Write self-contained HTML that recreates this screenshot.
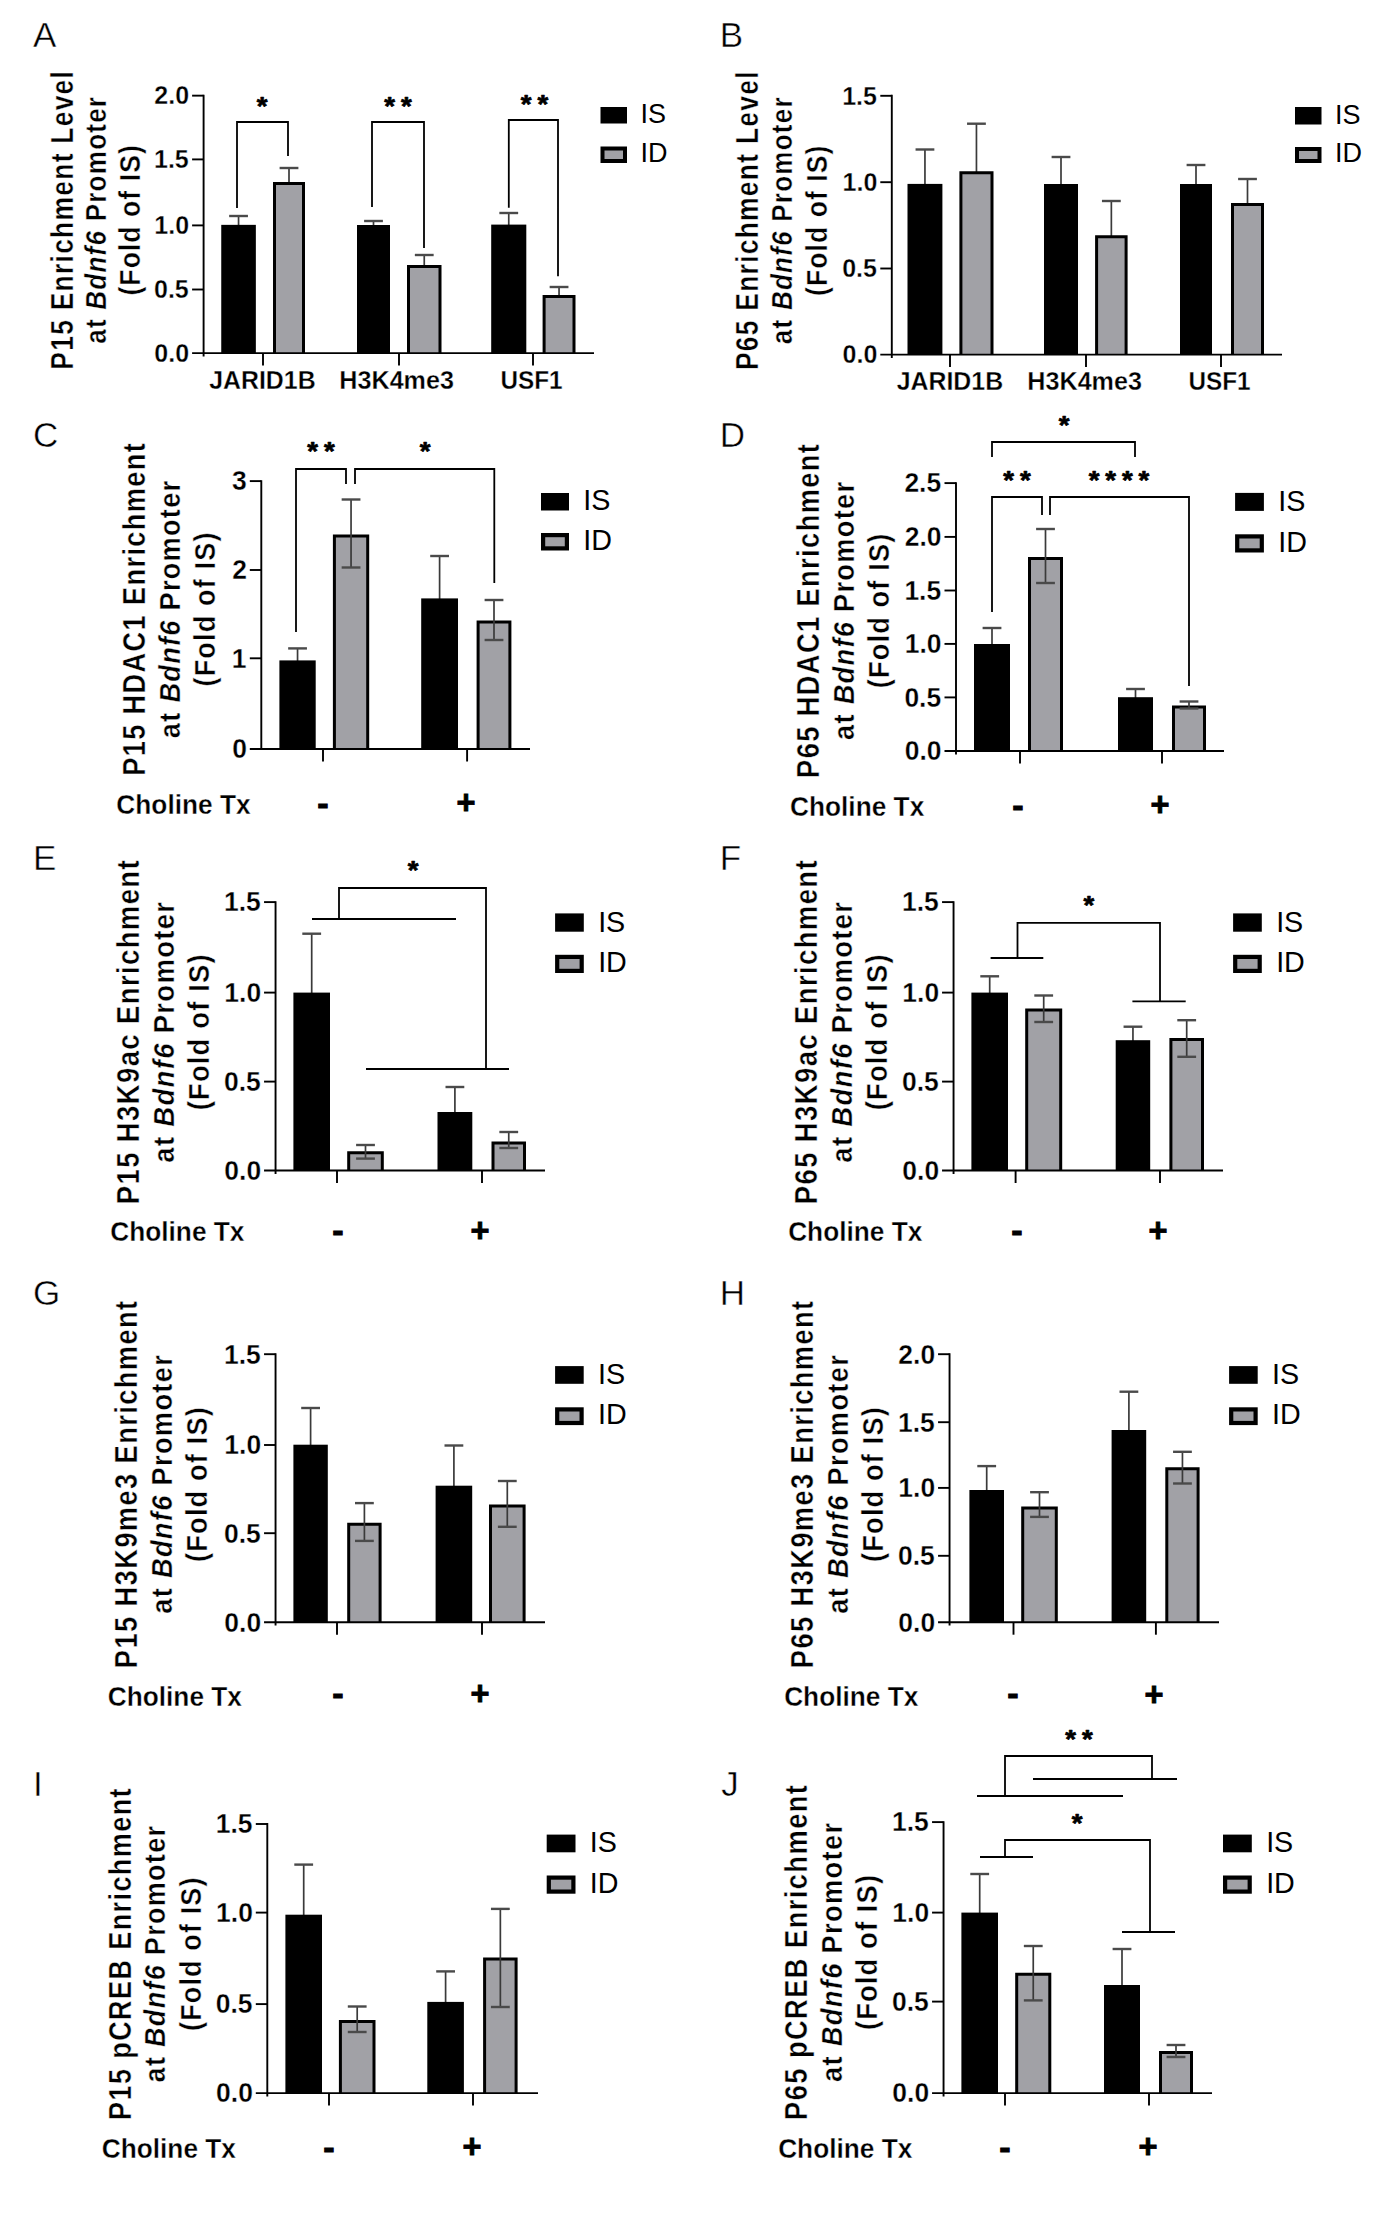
<!DOCTYPE html>
<html><head><meta charset="utf-8"><title>Figure</title>
<style>
html,body{margin:0;padding:0;background:#fff}
svg{display:block}
text{font-family:"Liberation Sans",Arial,Helvetica,sans-serif;fill:#000;font-kerning:none}
.thin{stroke:#fff;stroke-width:0.45px;paint-order:fill stroke}
.t{stroke:#fff;stroke-width:0.3px;paint-order:fill stroke}
.tt{stroke:#fff;stroke-width:0.4px;paint-order:fill stroke}
.ch{stroke:#fff;stroke-width:0.35px;paint-order:fill stroke}
.fat2{stroke:#000;stroke-width:0.7px;stroke-linejoin:round}
.fat{stroke:#000;stroke-width:0.9px;stroke-linejoin:miter}
</style></head><body>
<svg width="1377" height="2220" viewBox="0 0 1377 2220">
<rect width="1377" height="2220" fill="#fff"/>
<line x1="238.55" y1="216.00" x2="238.55" y2="225.85" stroke="#3a3a3a" stroke-width="1.7" stroke-linecap="butt"/>
<line x1="229.15" y1="216.00" x2="247.95" y2="216.00" stroke="#4a4a4a" stroke-width="2.4" stroke-linecap="butt"/>
<rect x="221.25" y="224.85" width="34.60" height="128.25" fill="#000"/>
<line x1="289.00" y1="168.00" x2="289.00" y2="183.00" stroke="#3a3a3a" stroke-width="1.7" stroke-linecap="butt"/>
<line x1="279.60" y1="168.00" x2="298.40" y2="168.00" stroke="#4a4a4a" stroke-width="2.4" stroke-linecap="butt"/>
<rect x="274.00" y="183.00" width="30.00" height="170.10" fill="#a1a1a6"/>
<polyline points="274.50,353.10 274.50,183.50 303.50,183.50 303.50,353.10" fill="none" stroke="#000" stroke-width="3.0" stroke-linejoin="miter"/>
<line x1="373.50" y1="221.00" x2="373.50" y2="226.00" stroke="#3a3a3a" stroke-width="1.7" stroke-linecap="butt"/>
<line x1="364.10" y1="221.00" x2="382.90" y2="221.00" stroke="#4a4a4a" stroke-width="2.4" stroke-linecap="butt"/>
<rect x="357.00" y="225.00" width="33.00" height="128.10" fill="#000"/>
<line x1="424.25" y1="255.00" x2="424.25" y2="266.00" stroke="#3a3a3a" stroke-width="1.7" stroke-linecap="butt"/>
<line x1="414.85" y1="255.00" x2="433.65" y2="255.00" stroke="#4a4a4a" stroke-width="2.4" stroke-linecap="butt"/>
<rect x="408.00" y="266.00" width="32.50" height="87.10" fill="#a1a1a6"/>
<polyline points="408.50,353.10 408.50,266.50 440.00,266.50 440.00,353.10" fill="none" stroke="#000" stroke-width="3.0" stroke-linejoin="miter"/>
<line x1="508.75" y1="213.00" x2="508.75" y2="225.60" stroke="#3a3a3a" stroke-width="1.7" stroke-linecap="butt"/>
<line x1="499.35" y1="213.00" x2="518.15" y2="213.00" stroke="#4a4a4a" stroke-width="2.4" stroke-linecap="butt"/>
<rect x="491.20" y="224.60" width="35.10" height="128.50" fill="#000"/>
<line x1="559.05" y1="287.00" x2="559.05" y2="296.00" stroke="#3a3a3a" stroke-width="1.7" stroke-linecap="butt"/>
<line x1="549.65" y1="287.00" x2="568.45" y2="287.00" stroke="#4a4a4a" stroke-width="2.4" stroke-linecap="butt"/>
<rect x="543.60" y="296.00" width="30.90" height="57.10" fill="#a1a1a6"/>
<polyline points="544.10,353.10 544.10,296.50 574.00,296.50 574.00,353.10" fill="none" stroke="#000" stroke-width="3.0" stroke-linejoin="miter"/>
<line x1="203.60" y1="94.70" x2="203.60" y2="356.50" stroke="#000" stroke-width="1.9" stroke-linecap="butt"/>
<line x1="192.10" y1="353.10" x2="594.00" y2="353.10" stroke="#000" stroke-width="1.9" stroke-linecap="butt"/>
<line x1="192.10" y1="95.65" x2="203.60" y2="95.65" stroke="#000" stroke-width="1.9" stroke-linecap="butt"/>
<text transform="translate(154.36,104.45) scale(0.9800,1)" font-size="25.5" font-weight="bold" text-anchor="start" class="t">2.0</text>
<line x1="192.10" y1="159.40" x2="203.60" y2="159.40" stroke="#000" stroke-width="1.9" stroke-linecap="butt"/>
<text transform="translate(153.99,168.20) scale(0.9800,1)" font-size="25.5" font-weight="bold" text-anchor="start" class="t">1.5</text>
<line x1="192.10" y1="225.40" x2="203.60" y2="225.40" stroke="#000" stroke-width="1.9" stroke-linecap="butt"/>
<text transform="translate(154.36,234.20) scale(0.9800,1)" font-size="25.5" font-weight="bold" text-anchor="start" class="t">1.0</text>
<line x1="192.10" y1="289.50" x2="203.60" y2="289.50" stroke="#000" stroke-width="1.9" stroke-linecap="butt"/>
<text transform="translate(153.99,298.30) scale(0.9800,1)" font-size="25.5" font-weight="bold" text-anchor="start" class="t">0.5</text>
<text transform="translate(154.36,361.90) scale(0.9800,1)" font-size="25.5" font-weight="bold" text-anchor="start" class="t">0.0</text>
<line x1="263.00" y1="353.10" x2="263.00" y2="365.60" stroke="#000" stroke-width="1.9" stroke-linecap="butt"/>
<line x1="399.00" y1="353.10" x2="399.00" y2="365.60" stroke="#000" stroke-width="1.9" stroke-linecap="butt"/>
<line x1="533.00" y1="353.10" x2="533.00" y2="365.60" stroke="#000" stroke-width="1.9" stroke-linecap="butt"/>
<text transform="translate(209.13,389.30) scale(0.9885,1)" font-size="25.2" font-weight="bold" text-anchor="start" class="t">JARID1B</text>
<text transform="translate(339.37,389.30) scale(0.9976,1)" font-size="25.2" font-weight="bold" text-anchor="start" class="t">H3K4me3</text>
<text transform="translate(500.54,389.30) scale(0.9639,1)" font-size="25.2" font-weight="bold" text-anchor="start" class="t">USF1</text>
<rect x="600.50" y="107.00" width="26.50" height="16.50" fill="#000"/>
<rect x="602.50" y="148.50" width="22.50" height="12.50" fill="#a1a1a6" stroke="#000" stroke-width="4"/>
<text transform="translate(640.50,123.40) scale(1.0000,1)" font-size="27" font-weight="normal" text-anchor="start">IS</text>
<text transform="translate(640.50,162.20) scale(1.0000,1)" font-size="27" font-weight="normal" text-anchor="start">ID</text>
<text transform="translate(72.70,219.77) rotate(-90) scale(0.8672,1)" font-size="30.5" font-weight="bold" text-anchor="middle" letter-spacing="1.451" class="tt" xml:space="preserve">P15 Enrichment Level</text>
<text transform="translate(105.80,219.78) rotate(-90) scale(0.8679,1)" font-size="30" font-weight="bold" text-anchor="middle" letter-spacing="1.422" class="tt" xml:space="preserve">at <tspan font-style="italic">Bdnf6</tspan> Promoter</text>
<text transform="translate(140.00,219.85) rotate(-90) scale(0.9043,1)" font-size="29.3" font-weight="bold" text-anchor="middle" letter-spacing="1.209" class="tt" xml:space="preserve">(Fold of IS)</text>
<text transform="translate(33.00,47.20) scale(1.0000,1)" font-size="35" font-weight="normal" text-anchor="start" class="thin">A</text>
<polyline points="237.00,208.00 237.00,122.00 288.00,122.00 288.00,156.00" fill="none" stroke="#000" stroke-width="1.8" stroke-linejoin="miter"/>
<polyline points="372.00,207.00 372.00,122.00 424.00,122.00 424.00,248.00" fill="none" stroke="#000" stroke-width="1.8" stroke-linejoin="miter"/>
<polyline points="508.80,207.80 508.80,120.00 558.00,120.00 558.00,276.20" fill="none" stroke="#000" stroke-width="1.8" stroke-linejoin="miter"/>
<text transform="translate(256.64,114.58) scale(1.08,1)" font-size="25.5" font-weight="bold" letter-spacing="5.45" text-anchor="start" class="fat2">*</text>
<text transform="translate(384.34,114.58) scale(1.08,1)" font-size="25.5" font-weight="bold" letter-spacing="5.45" text-anchor="start" class="fat2">**</text>
<text transform="translate(520.84,112.88) scale(1.08,1)" font-size="25.5" font-weight="bold" letter-spacing="5.45" text-anchor="start" class="fat2">**</text>
<line x1="924.95" y1="149.50" x2="924.95" y2="184.90" stroke="#3a3a3a" stroke-width="1.7" stroke-linecap="butt"/>
<line x1="915.55" y1="149.50" x2="934.35" y2="149.50" stroke="#4a4a4a" stroke-width="2.4" stroke-linecap="butt"/>
<rect x="907.50" y="183.90" width="34.90" height="170.70" fill="#000"/>
<line x1="976.45" y1="123.70" x2="976.45" y2="172.30" stroke="#3a3a3a" stroke-width="1.7" stroke-linecap="butt"/>
<line x1="967.05" y1="123.70" x2="985.85" y2="123.70" stroke="#4a4a4a" stroke-width="2.4" stroke-linecap="butt"/>
<rect x="960.40" y="172.30" width="32.10" height="182.30" fill="#a1a1a6"/>
<polyline points="960.90,354.60 960.90,172.80 992.00,172.80 992.00,354.60" fill="none" stroke="#000" stroke-width="3.0" stroke-linejoin="miter"/>
<line x1="1061.00" y1="157.00" x2="1061.00" y2="185.00" stroke="#3a3a3a" stroke-width="1.7" stroke-linecap="butt"/>
<line x1="1051.60" y1="157.00" x2="1070.40" y2="157.00" stroke="#4a4a4a" stroke-width="2.4" stroke-linecap="butt"/>
<rect x="1044.00" y="184.00" width="34.00" height="170.60" fill="#000"/>
<line x1="1111.35" y1="201.00" x2="1111.35" y2="236.20" stroke="#3a3a3a" stroke-width="1.7" stroke-linecap="butt"/>
<line x1="1101.95" y1="201.00" x2="1120.75" y2="201.00" stroke="#4a4a4a" stroke-width="2.4" stroke-linecap="butt"/>
<rect x="1096.10" y="236.20" width="30.50" height="118.40" fill="#a1a1a6"/>
<polyline points="1096.60,354.60 1096.60,236.70 1126.10,236.70 1126.10,354.60" fill="none" stroke="#000" stroke-width="3.0" stroke-linejoin="miter"/>
<line x1="1196.00" y1="165.00" x2="1196.00" y2="185.00" stroke="#3a3a3a" stroke-width="1.7" stroke-linecap="butt"/>
<line x1="1186.60" y1="165.00" x2="1205.40" y2="165.00" stroke="#4a4a4a" stroke-width="2.4" stroke-linecap="butt"/>
<rect x="1180.00" y="184.00" width="32.00" height="170.60" fill="#000"/>
<line x1="1247.50" y1="179.00" x2="1247.50" y2="204.00" stroke="#3a3a3a" stroke-width="1.7" stroke-linecap="butt"/>
<line x1="1238.10" y1="179.00" x2="1256.90" y2="179.00" stroke="#4a4a4a" stroke-width="2.4" stroke-linecap="butt"/>
<rect x="1232.00" y="204.00" width="31.00" height="150.60" fill="#a1a1a6"/>
<polyline points="1232.50,354.60 1232.50,204.50 1262.50,204.50 1262.50,354.60" fill="none" stroke="#000" stroke-width="3.0" stroke-linejoin="miter"/>
<line x1="891.80" y1="94.85" x2="891.80" y2="358.00" stroke="#000" stroke-width="1.9" stroke-linecap="butt"/>
<line x1="880.30" y1="354.60" x2="1282.00" y2="354.60" stroke="#000" stroke-width="1.9" stroke-linecap="butt"/>
<line x1="880.30" y1="95.80" x2="891.80" y2="95.80" stroke="#000" stroke-width="1.9" stroke-linecap="butt"/>
<text transform="translate(842.19,104.60) scale(0.9800,1)" font-size="25.5" font-weight="bold" text-anchor="start" class="t">1.5</text>
<line x1="880.30" y1="182.20" x2="891.80" y2="182.20" stroke="#000" stroke-width="1.9" stroke-linecap="butt"/>
<text transform="translate(842.56,191.00) scale(0.9800,1)" font-size="25.5" font-weight="bold" text-anchor="start" class="t">1.0</text>
<line x1="880.30" y1="268.50" x2="891.80" y2="268.50" stroke="#000" stroke-width="1.9" stroke-linecap="butt"/>
<text transform="translate(842.19,277.30) scale(0.9800,1)" font-size="25.5" font-weight="bold" text-anchor="start" class="t">0.5</text>
<text transform="translate(842.56,363.40) scale(0.9800,1)" font-size="25.5" font-weight="bold" text-anchor="start" class="t">0.0</text>
<line x1="950.00" y1="354.60" x2="950.00" y2="367.10" stroke="#000" stroke-width="1.9" stroke-linecap="butt"/>
<line x1="1086.00" y1="354.60" x2="1086.00" y2="367.10" stroke="#000" stroke-width="1.9" stroke-linecap="butt"/>
<line x1="1221.00" y1="354.60" x2="1221.00" y2="367.10" stroke="#000" stroke-width="1.9" stroke-linecap="butt"/>
<text transform="translate(896.63,390.00) scale(0.9885,1)" font-size="25.2" font-weight="bold" text-anchor="start" class="t">JARID1B</text>
<text transform="translate(1027.37,390.00) scale(0.9976,1)" font-size="25.2" font-weight="bold" text-anchor="start" class="t">H3K4me3</text>
<text transform="translate(1188.54,390.00) scale(0.9639,1)" font-size="25.2" font-weight="bold" text-anchor="start" class="t">USF1</text>
<rect x="1295.00" y="107.00" width="26.50" height="17.50" fill="#000"/>
<rect x="1297.00" y="149.00" width="22.50" height="12.00" fill="#a1a1a6" stroke="#000" stroke-width="4"/>
<text transform="translate(1335.00,124.40) scale(1.0000,1)" font-size="27" font-weight="normal" text-anchor="start">IS</text>
<text transform="translate(1335.00,162.20) scale(1.0000,1)" font-size="27" font-weight="normal" text-anchor="start">ID</text>
<text transform="translate(757.90,220.17) rotate(-90) scale(0.8672,1)" font-size="30.5" font-weight="bold" text-anchor="middle" letter-spacing="1.451" class="tt" xml:space="preserve">P65 Enrichment Level</text>
<text transform="translate(792.00,220.18) rotate(-90) scale(0.8679,1)" font-size="30" font-weight="bold" text-anchor="middle" letter-spacing="1.422" class="tt" xml:space="preserve">at <tspan font-style="italic">Bdnf6</tspan> Promoter</text>
<text transform="translate(826.60,220.25) rotate(-90) scale(0.9043,1)" font-size="29.3" font-weight="bold" text-anchor="middle" letter-spacing="1.209" class="tt" xml:space="preserve">(Fold of IS)</text>
<text transform="translate(719.70,47.00) scale(1.0000,1)" font-size="35" font-weight="normal" text-anchor="start" class="thin">B</text>
<line x1="297.55" y1="648.40" x2="297.55" y2="661.40" stroke="#3a3a3a" stroke-width="1.7" stroke-linecap="butt"/>
<line x1="288.15" y1="648.40" x2="306.95" y2="648.40" stroke="#4a4a4a" stroke-width="2.4" stroke-linecap="butt"/>
<rect x="279.40" y="660.40" width="36.30" height="88.60" fill="#000"/>
<rect x="333.90" y="535.40" width="34.30" height="213.60" fill="#a1a1a6"/>
<polyline points="334.40,749.00 334.40,535.90 367.70,535.90 367.70,749.00" fill="none" stroke="#000" stroke-width="3.0" stroke-linejoin="miter"/>
<line x1="351.05" y1="499.50" x2="351.05" y2="567.50" stroke="#3a3a3a" stroke-width="1.7" stroke-linecap="butt"/>
<line x1="341.65" y1="499.50" x2="360.45" y2="499.50" stroke="#4a4a4a" stroke-width="2.4" stroke-linecap="butt"/>
<line x1="341.65" y1="567.50" x2="360.45" y2="567.50" stroke="#4a4a4a" stroke-width="2.4" stroke-linecap="butt"/>
<line x1="439.60" y1="556.00" x2="439.60" y2="599.40" stroke="#3a3a3a" stroke-width="1.7" stroke-linecap="butt"/>
<line x1="430.20" y1="556.00" x2="449.00" y2="556.00" stroke="#4a4a4a" stroke-width="2.4" stroke-linecap="butt"/>
<rect x="421.20" y="598.40" width="36.80" height="150.60" fill="#000"/>
<rect x="477.60" y="621.60" width="32.80" height="127.40" fill="#a1a1a6"/>
<polyline points="478.10,749.00 478.10,622.10 509.90,622.10 509.90,749.00" fill="none" stroke="#000" stroke-width="3.0" stroke-linejoin="miter"/>
<line x1="494.00" y1="600.00" x2="494.00" y2="640.00" stroke="#3a3a3a" stroke-width="1.7" stroke-linecap="butt"/>
<line x1="484.60" y1="600.00" x2="503.40" y2="600.00" stroke="#4a4a4a" stroke-width="2.4" stroke-linecap="butt"/>
<line x1="484.60" y1="640.00" x2="503.40" y2="640.00" stroke="#4a4a4a" stroke-width="2.4" stroke-linecap="butt"/>
<line x1="261.30" y1="480.15" x2="261.30" y2="749.90" stroke="#000" stroke-width="1.9" stroke-linecap="butt"/>
<line x1="249.80" y1="749.00" x2="530.00" y2="749.00" stroke="#000" stroke-width="1.9" stroke-linecap="butt"/>
<line x1="249.80" y1="481.10" x2="261.30" y2="481.10" stroke="#000" stroke-width="1.9" stroke-linecap="butt"/>
<text transform="translate(232.04,490.42) scale(0.9800,1)" font-size="27" font-weight="bold" text-anchor="start" class="t">3</text>
<line x1="249.80" y1="570.00" x2="261.30" y2="570.00" stroke="#000" stroke-width="1.9" stroke-linecap="butt"/>
<text transform="translate(232.17,579.32) scale(0.9800,1)" font-size="27" font-weight="bold" text-anchor="start" class="t">2</text>
<line x1="249.80" y1="658.30" x2="261.30" y2="658.30" stroke="#000" stroke-width="1.9" stroke-linecap="butt"/>
<text transform="translate(231.78,667.62) scale(0.9800,1)" font-size="27" font-weight="bold" text-anchor="start" class="t">1</text>
<text transform="translate(232.17,758.32) scale(0.9800,1)" font-size="27" font-weight="bold" text-anchor="start" class="t">0</text>
<line x1="323.00" y1="749.00" x2="323.00" y2="761.50" stroke="#000" stroke-width="1.9" stroke-linecap="butt"/>
<line x1="467.10" y1="749.00" x2="467.10" y2="761.50" stroke="#000" stroke-width="1.9" stroke-linecap="butt"/>
<text transform="translate(116.35,814.00) scale(0.9216,1)" font-size="28.5" font-weight="bold" text-anchor="start" class="ch">Choline Tx</text>
<text transform="translate(317.28,815.45) scale(1.0500,1)" font-size="32.5" font-weight="bold" text-anchor="start" class="fat">-</text>
<text transform="translate(456.49,813.73) scale(1.0000,1)" font-size="32.5" font-weight="bold" text-anchor="start" class="fat">+</text>
<rect x="541.00" y="493.00" width="28.00" height="17.50" fill="#000"/>
<rect x="543.10" y="535.10" width="23.80" height="13.30" fill="#a1a1a6" stroke="#000" stroke-width="4.2"/>
<text transform="translate(583.35,510.40) scale(1.0000,1)" font-size="28.7" font-weight="normal" text-anchor="start">IS</text>
<text transform="translate(583.35,549.70) scale(1.0000,1)" font-size="28.7" font-weight="normal" text-anchor="start">ID</text>
<text transform="translate(145.10,608.80) rotate(-90) scale(0.8898,1)" font-size="30.5" font-weight="bold" text-anchor="middle" letter-spacing="1.575" class="tt" xml:space="preserve">P15 HDAC1 Enrichment</text>
<text transform="translate(179.90,608.86) rotate(-90) scale(0.9047,1)" font-size="30" font-weight="bold" text-anchor="middle" letter-spacing="1.422" class="tt" xml:space="preserve">at <tspan font-style="italic">Bdnf6</tspan> Promoter</text>
<text transform="translate(215.00,608.94) rotate(-90) scale(0.9263,1)" font-size="29.3" font-weight="bold" text-anchor="middle" letter-spacing="1.209" class="tt" xml:space="preserve">(Fold of IS)</text>
<text transform="translate(33.00,446.50) scale(1.0000,1)" font-size="35" font-weight="normal" text-anchor="start" class="thin">C</text>
<polyline points="296.00,632.00 296.00,469.00 346.00,469.00 346.00,484.00" fill="none" stroke="#000" stroke-width="1.8" stroke-linejoin="miter"/>
<polyline points="355.00,484.00 355.00,469.00 494.30,469.00 494.30,583.00" fill="none" stroke="#000" stroke-width="1.8" stroke-linejoin="miter"/>
<text transform="translate(307.34,459.58) scale(1.08,1)" font-size="25.5" font-weight="bold" letter-spacing="5.45" text-anchor="start" class="fat2">**</text>
<text transform="translate(419.64,459.58) scale(1.08,1)" font-size="25.5" font-weight="bold" letter-spacing="5.45" text-anchor="start" class="fat2">*</text>
<line x1="992.00" y1="628.00" x2="992.00" y2="645.00" stroke="#3a3a3a" stroke-width="1.7" stroke-linecap="butt"/>
<line x1="982.60" y1="628.00" x2="1001.40" y2="628.00" stroke="#4a4a4a" stroke-width="2.4" stroke-linecap="butt"/>
<rect x="974.00" y="644.00" width="36.00" height="107.00" fill="#000"/>
<rect x="1029.00" y="558.00" width="33.00" height="193.00" fill="#a1a1a6"/>
<polyline points="1029.50,751.00 1029.50,558.50 1061.50,558.50 1061.50,751.00" fill="none" stroke="#000" stroke-width="3.0" stroke-linejoin="miter"/>
<line x1="1045.50" y1="529.00" x2="1045.50" y2="583.00" stroke="#3a3a3a" stroke-width="1.7" stroke-linecap="butt"/>
<line x1="1036.10" y1="529.00" x2="1054.90" y2="529.00" stroke="#4a4a4a" stroke-width="2.4" stroke-linecap="butt"/>
<line x1="1036.10" y1="583.00" x2="1054.90" y2="583.00" stroke="#4a4a4a" stroke-width="2.4" stroke-linecap="butt"/>
<line x1="1135.50" y1="689.00" x2="1135.50" y2="698.20" stroke="#3a3a3a" stroke-width="1.7" stroke-linecap="butt"/>
<line x1="1126.10" y1="689.00" x2="1144.90" y2="689.00" stroke="#4a4a4a" stroke-width="2.4" stroke-linecap="butt"/>
<rect x="1118.00" y="697.20" width="35.00" height="53.80" fill="#000"/>
<rect x="1173.00" y="706.50" width="32.00" height="44.50" fill="#a1a1a6"/>
<polyline points="1173.50,751.00 1173.50,707.00 1204.50,707.00 1204.50,751.00" fill="none" stroke="#000" stroke-width="3.0" stroke-linejoin="miter"/>
<line x1="1189.00" y1="701.50" x2="1189.00" y2="708.50" stroke="#3a3a3a" stroke-width="1.7" stroke-linecap="butt"/>
<line x1="1179.60" y1="701.50" x2="1198.40" y2="701.50" stroke="#4a4a4a" stroke-width="2.4" stroke-linecap="butt"/>
<line x1="1179.60" y1="708.50" x2="1198.40" y2="708.50" stroke="#4a4a4a" stroke-width="2.4" stroke-linecap="butt"/>
<line x1="956.00" y1="482.15" x2="956.00" y2="754.40" stroke="#000" stroke-width="1.9" stroke-linecap="butt"/>
<line x1="944.50" y1="751.00" x2="1224.00" y2="751.00" stroke="#000" stroke-width="1.9" stroke-linecap="butt"/>
<line x1="944.50" y1="483.10" x2="956.00" y2="483.10" stroke="#000" stroke-width="1.9" stroke-linecap="butt"/>
<text transform="translate(904.38,492.42) scale(0.9800,1)" font-size="27" font-weight="bold" text-anchor="start" class="t">2.5</text>
<line x1="944.50" y1="536.90" x2="956.00" y2="536.90" stroke="#000" stroke-width="1.9" stroke-linecap="butt"/>
<text transform="translate(904.78,546.22) scale(0.9800,1)" font-size="27" font-weight="bold" text-anchor="start" class="t">2.0</text>
<line x1="944.50" y1="590.50" x2="956.00" y2="590.50" stroke="#000" stroke-width="1.9" stroke-linecap="butt"/>
<text transform="translate(904.38,599.82) scale(0.9800,1)" font-size="27" font-weight="bold" text-anchor="start" class="t">1.5</text>
<line x1="944.50" y1="643.90" x2="956.00" y2="643.90" stroke="#000" stroke-width="1.9" stroke-linecap="butt"/>
<text transform="translate(904.78,653.22) scale(0.9800,1)" font-size="27" font-weight="bold" text-anchor="start" class="t">1.0</text>
<line x1="944.50" y1="697.40" x2="956.00" y2="697.40" stroke="#000" stroke-width="1.9" stroke-linecap="butt"/>
<text transform="translate(904.38,706.72) scale(0.9800,1)" font-size="27" font-weight="bold" text-anchor="start" class="t">0.5</text>
<text transform="translate(904.78,760.32) scale(0.9800,1)" font-size="27" font-weight="bold" text-anchor="start" class="t">0.0</text>
<line x1="1020.00" y1="751.00" x2="1020.00" y2="763.50" stroke="#000" stroke-width="1.9" stroke-linecap="butt"/>
<line x1="1162.00" y1="751.00" x2="1162.00" y2="763.50" stroke="#000" stroke-width="1.9" stroke-linecap="butt"/>
<text transform="translate(790.05,816.00) scale(0.9216,1)" font-size="28.5" font-weight="bold" text-anchor="start" class="ch">Choline Tx</text>
<text transform="translate(1012.28,816.95) scale(1.0500,1)" font-size="32.5" font-weight="bold" text-anchor="start" class="fat">-</text>
<text transform="translate(1150.49,815.73) scale(1.0000,1)" font-size="32.5" font-weight="bold" text-anchor="start" class="fat">+</text>
<rect x="1235.10" y="492.90" width="28.80" height="18.00" fill="#000"/>
<rect x="1237.20" y="536.40" width="24.60" height="14.00" fill="#a1a1a6" stroke="#000" stroke-width="4.2"/>
<text transform="translate(1278.25,510.80) scale(1.0000,1)" font-size="28.7" font-weight="normal" text-anchor="start">IS</text>
<text transform="translate(1278.25,551.70) scale(1.0000,1)" font-size="28.7" font-weight="normal" text-anchor="start">ID</text>
<text transform="translate(818.80,610.30) rotate(-90) scale(0.8929,1)" font-size="30.5" font-weight="bold" text-anchor="middle" letter-spacing="1.575" class="tt" xml:space="preserve">P65 HDAC1 Enrichment</text>
<text transform="translate(854.10,610.35) rotate(-90) scale(0.9077,1)" font-size="30" font-weight="bold" text-anchor="middle" letter-spacing="1.422" class="tt" xml:space="preserve">at <tspan font-style="italic">Bdnf6</tspan> Promoter</text>
<text transform="translate(888.90,610.44) rotate(-90) scale(0.9294,1)" font-size="29.3" font-weight="bold" text-anchor="middle" letter-spacing="1.209" class="tt" xml:space="preserve">(Fold of IS)</text>
<text transform="translate(719.70,447.00) scale(1.0000,1)" font-size="35" font-weight="normal" text-anchor="start" class="thin">D</text>
<polyline points="992.00,457.00 992.00,442.00 1135.00,442.00 1135.00,457.00" fill="none" stroke="#000" stroke-width="1.8" stroke-linejoin="miter"/>
<polyline points="992.00,612.00 992.00,497.00 1042.00,497.00 1042.00,515.00" fill="none" stroke="#000" stroke-width="1.8" stroke-linejoin="miter"/>
<polyline points="1050.00,515.00 1050.00,497.00 1189.00,497.00 1189.00,686.00" fill="none" stroke="#000" stroke-width="1.8" stroke-linejoin="miter"/>
<text transform="translate(1058.64,433.58) scale(1.08,1)" font-size="25.5" font-weight="bold" letter-spacing="5.45" text-anchor="start" class="fat2">*</text>
<text transform="translate(1003.34,488.58) scale(1.08,1)" font-size="25.5" font-weight="bold" letter-spacing="5.45" text-anchor="start" class="fat2">**</text>
<text transform="translate(1088.74,488.58) scale(1.08,1)" font-size="25.5" font-weight="bold" letter-spacing="5.45" text-anchor="start" class="fat2">****</text>
<line x1="311.70" y1="933.70" x2="311.70" y2="993.60" stroke="#3a3a3a" stroke-width="1.7" stroke-linecap="butt"/>
<line x1="302.30" y1="933.70" x2="321.10" y2="933.70" stroke="#4a4a4a" stroke-width="2.4" stroke-linecap="butt"/>
<rect x="293.40" y="992.60" width="36.60" height="177.90" fill="#000"/>
<rect x="348.20" y="1152.30" width="34.60" height="18.20" fill="#a1a1a6"/>
<polyline points="348.70,1170.50 348.70,1152.80 382.30,1152.80 382.30,1170.50" fill="none" stroke="#000" stroke-width="3.0" stroke-linejoin="miter"/>
<line x1="365.50" y1="1145.00" x2="365.50" y2="1158.60" stroke="#3a3a3a" stroke-width="1.7" stroke-linecap="butt"/>
<line x1="356.10" y1="1145.00" x2="374.90" y2="1145.00" stroke="#4a4a4a" stroke-width="2.4" stroke-linecap="butt"/>
<line x1="356.10" y1="1158.60" x2="374.90" y2="1158.60" stroke="#4a4a4a" stroke-width="2.4" stroke-linecap="butt"/>
<line x1="454.90" y1="1087.00" x2="454.90" y2="1113.00" stroke="#3a3a3a" stroke-width="1.7" stroke-linecap="butt"/>
<line x1="445.50" y1="1087.00" x2="464.30" y2="1087.00" stroke="#4a4a4a" stroke-width="2.4" stroke-linecap="butt"/>
<rect x="437.50" y="1112.00" width="34.80" height="58.50" fill="#000"/>
<rect x="492.50" y="1142.50" width="32.50" height="28.00" fill="#a1a1a6"/>
<polyline points="493.00,1170.50 493.00,1143.00 524.50,1143.00 524.50,1170.50" fill="none" stroke="#000" stroke-width="3.0" stroke-linejoin="miter"/>
<line x1="508.75" y1="1132.00" x2="508.75" y2="1148.00" stroke="#3a3a3a" stroke-width="1.7" stroke-linecap="butt"/>
<line x1="499.35" y1="1132.00" x2="518.15" y2="1132.00" stroke="#4a4a4a" stroke-width="2.4" stroke-linecap="butt"/>
<line x1="499.35" y1="1148.00" x2="518.15" y2="1148.00" stroke="#4a4a4a" stroke-width="2.4" stroke-linecap="butt"/>
<line x1="275.55" y1="901.15" x2="275.55" y2="1173.90" stroke="#000" stroke-width="1.9" stroke-linecap="butt"/>
<line x1="264.05" y1="1170.50" x2="545.00" y2="1170.50" stroke="#000" stroke-width="1.9" stroke-linecap="butt"/>
<line x1="264.05" y1="902.10" x2="275.55" y2="902.10" stroke="#000" stroke-width="1.9" stroke-linecap="butt"/>
<text transform="translate(223.93,911.42) scale(0.9800,1)" font-size="27" font-weight="bold" text-anchor="start" class="t">1.5</text>
<line x1="264.05" y1="992.60" x2="275.55" y2="992.60" stroke="#000" stroke-width="1.9" stroke-linecap="butt"/>
<text transform="translate(224.33,1001.92) scale(0.9800,1)" font-size="27" font-weight="bold" text-anchor="start" class="t">1.0</text>
<line x1="264.05" y1="1081.60" x2="275.55" y2="1081.60" stroke="#000" stroke-width="1.9" stroke-linecap="butt"/>
<text transform="translate(223.93,1090.91) scale(0.9800,1)" font-size="27" font-weight="bold" text-anchor="start" class="t">0.5</text>
<text transform="translate(224.33,1179.82) scale(0.9800,1)" font-size="27" font-weight="bold" text-anchor="start" class="t">0.0</text>
<line x1="337.00" y1="1170.50" x2="337.00" y2="1183.00" stroke="#000" stroke-width="1.9" stroke-linecap="butt"/>
<line x1="482.00" y1="1170.50" x2="482.00" y2="1183.00" stroke="#000" stroke-width="1.9" stroke-linecap="butt"/>
<text transform="translate(110.25,1241.00) scale(0.9216,1)" font-size="28.5" font-weight="bold" text-anchor="start" class="ch">Choline Tx</text>
<text transform="translate(332.28,1242.45) scale(1.0500,1)" font-size="32.5" font-weight="bold" text-anchor="start" class="fat">-</text>
<text transform="translate(470.49,1241.72) scale(1.0000,1)" font-size="32.5" font-weight="bold" text-anchor="start" class="fat">+</text>
<rect x="555.10" y="913.40" width="28.70" height="18.30" fill="#000"/>
<rect x="557.20" y="956.90" width="24.50" height="14.00" fill="#a1a1a6" stroke="#000" stroke-width="4.2"/>
<text transform="translate(598.15,931.60) scale(1.0000,1)" font-size="28.7" font-weight="normal" text-anchor="start">IS</text>
<text transform="translate(598.15,972.20) scale(1.0000,1)" font-size="28.7" font-weight="normal" text-anchor="start">ID</text>
<text transform="translate(139.00,1031.61) rotate(-90) scale(0.9019,1)" font-size="30.5" font-weight="bold" text-anchor="middle" letter-spacing="1.526" class="tt" xml:space="preserve">P15 H3K9ac Enrichment</text>
<text transform="translate(174.30,1031.65) rotate(-90) scale(0.9169,1)" font-size="30" font-weight="bold" text-anchor="middle" letter-spacing="1.422" class="tt" xml:space="preserve">at <tspan font-style="italic">Bdnf6</tspan> Promoter</text>
<text transform="translate(209.10,1031.73) rotate(-90) scale(0.9388,1)" font-size="29.3" font-weight="bold" text-anchor="middle" letter-spacing="1.209" class="tt" xml:space="preserve">(Fold of IS)</text>
<text transform="translate(33.00,869.50) scale(1.0000,1)" font-size="35" font-weight="normal" text-anchor="start" class="thin">E</text>
<polyline points="312.00,919.00 456.00,919.00" fill="none" stroke="#000" stroke-width="1.8" stroke-linejoin="miter"/>
<polyline points="366.00,1069.00 509.00,1069.00" fill="none" stroke="#000" stroke-width="1.8" stroke-linejoin="miter"/>
<polyline points="339.00,919.00 339.00,888.00 486.00,888.00 486.00,1069.00" fill="none" stroke="#000" stroke-width="1.8" stroke-linejoin="miter"/>
<text transform="translate(407.64,878.58) scale(1.08,1)" font-size="25.5" font-weight="bold" letter-spacing="5.45" text-anchor="start" class="fat2">*</text>
<line x1="989.70" y1="976.30" x2="989.70" y2="993.60" stroke="#3a3a3a" stroke-width="1.7" stroke-linecap="butt"/>
<line x1="980.30" y1="976.30" x2="999.10" y2="976.30" stroke="#4a4a4a" stroke-width="2.4" stroke-linecap="butt"/>
<rect x="971.40" y="992.60" width="36.60" height="177.90" fill="#000"/>
<rect x="1026.20" y="1009.50" width="35.00" height="161.00" fill="#a1a1a6"/>
<polyline points="1026.70,1170.50 1026.70,1010.00 1060.70,1010.00 1060.70,1170.50" fill="none" stroke="#000" stroke-width="3.0" stroke-linejoin="miter"/>
<line x1="1043.70" y1="995.50" x2="1043.70" y2="1022.00" stroke="#3a3a3a" stroke-width="1.7" stroke-linecap="butt"/>
<line x1="1034.30" y1="995.50" x2="1053.10" y2="995.50" stroke="#4a4a4a" stroke-width="2.4" stroke-linecap="butt"/>
<line x1="1034.30" y1="1022.00" x2="1053.10" y2="1022.00" stroke="#4a4a4a" stroke-width="2.4" stroke-linecap="butt"/>
<line x1="1132.95" y1="1026.70" x2="1132.95" y2="1041.20" stroke="#3a3a3a" stroke-width="1.7" stroke-linecap="butt"/>
<line x1="1123.55" y1="1026.70" x2="1142.35" y2="1026.70" stroke="#4a4a4a" stroke-width="2.4" stroke-linecap="butt"/>
<rect x="1115.70" y="1040.20" width="34.50" height="130.30" fill="#000"/>
<rect x="1170.40" y="1039.00" width="32.60" height="131.50" fill="#a1a1a6"/>
<polyline points="1170.90,1170.50 1170.90,1039.50 1202.50,1039.50 1202.50,1170.50" fill="none" stroke="#000" stroke-width="3.0" stroke-linejoin="miter"/>
<line x1="1186.70" y1="1020.20" x2="1186.70" y2="1056.80" stroke="#3a3a3a" stroke-width="1.7" stroke-linecap="butt"/>
<line x1="1177.30" y1="1020.20" x2="1196.10" y2="1020.20" stroke="#4a4a4a" stroke-width="2.4" stroke-linecap="butt"/>
<line x1="1177.30" y1="1056.80" x2="1196.10" y2="1056.80" stroke="#4a4a4a" stroke-width="2.4" stroke-linecap="butt"/>
<line x1="953.55" y1="901.15" x2="953.55" y2="1173.90" stroke="#000" stroke-width="1.9" stroke-linecap="butt"/>
<line x1="942.05" y1="1170.50" x2="1223.00" y2="1170.50" stroke="#000" stroke-width="1.9" stroke-linecap="butt"/>
<line x1="942.05" y1="902.10" x2="953.55" y2="902.10" stroke="#000" stroke-width="1.9" stroke-linecap="butt"/>
<text transform="translate(901.93,911.42) scale(0.9800,1)" font-size="27" font-weight="bold" text-anchor="start" class="t">1.5</text>
<line x1="942.05" y1="992.60" x2="953.55" y2="992.60" stroke="#000" stroke-width="1.9" stroke-linecap="butt"/>
<text transform="translate(902.33,1001.92) scale(0.9800,1)" font-size="27" font-weight="bold" text-anchor="start" class="t">1.0</text>
<line x1="942.05" y1="1081.60" x2="953.55" y2="1081.60" stroke="#000" stroke-width="1.9" stroke-linecap="butt"/>
<text transform="translate(901.93,1090.91) scale(0.9800,1)" font-size="27" font-weight="bold" text-anchor="start" class="t">0.5</text>
<text transform="translate(902.33,1179.82) scale(0.9800,1)" font-size="27" font-weight="bold" text-anchor="start" class="t">0.0</text>
<line x1="1015.60" y1="1170.50" x2="1015.60" y2="1183.00" stroke="#000" stroke-width="1.9" stroke-linecap="butt"/>
<line x1="1160.00" y1="1170.50" x2="1160.00" y2="1183.00" stroke="#000" stroke-width="1.9" stroke-linecap="butt"/>
<text transform="translate(788.15,1241.00) scale(0.9216,1)" font-size="28.5" font-weight="bold" text-anchor="start" class="ch">Choline Tx</text>
<text transform="translate(1011.28,1242.45) scale(1.0500,1)" font-size="32.5" font-weight="bold" text-anchor="start" class="fat">-</text>
<text transform="translate(1148.49,1241.72) scale(1.0000,1)" font-size="32.5" font-weight="bold" text-anchor="start" class="fat">+</text>
<rect x="1233.10" y="913.40" width="28.70" height="18.30" fill="#000"/>
<rect x="1235.20" y="956.90" width="24.50" height="14.00" fill="#a1a1a6" stroke="#000" stroke-width="4.2"/>
<text transform="translate(1276.15,931.60) scale(1.0000,1)" font-size="28.7" font-weight="normal" text-anchor="start">IS</text>
<text transform="translate(1276.15,972.20) scale(1.0000,1)" font-size="28.7" font-weight="normal" text-anchor="start">ID</text>
<text transform="translate(816.90,1031.61) rotate(-90) scale(0.9019,1)" font-size="30.5" font-weight="bold" text-anchor="middle" letter-spacing="1.526" class="tt" xml:space="preserve">P65 H3K9ac Enrichment</text>
<text transform="translate(852.20,1031.65) rotate(-90) scale(0.9169,1)" font-size="30" font-weight="bold" text-anchor="middle" letter-spacing="1.422" class="tt" xml:space="preserve">at <tspan font-style="italic">Bdnf6</tspan> Promoter</text>
<text transform="translate(887.00,1031.73) rotate(-90) scale(0.9388,1)" font-size="29.3" font-weight="bold" text-anchor="middle" letter-spacing="1.209" class="tt" xml:space="preserve">(Fold of IS)</text>
<text transform="translate(719.70,869.50) scale(1.0000,1)" font-size="35" font-weight="normal" text-anchor="start" class="thin">F</text>
<polyline points="990.60,958.00 1043.30,958.00" fill="none" stroke="#000" stroke-width="1.8" stroke-linejoin="miter"/>
<polyline points="1132.40,1001.40 1185.70,1001.40" fill="none" stroke="#000" stroke-width="1.8" stroke-linejoin="miter"/>
<polyline points="1017.50,958.00 1017.50,922.80 1160.00,922.80 1160.00,1001.40" fill="none" stroke="#000" stroke-width="1.8" stroke-linejoin="miter"/>
<text transform="translate(1083.44,913.58) scale(1.08,1)" font-size="25.5" font-weight="bold" letter-spacing="5.45" text-anchor="start" class="fat2">*</text>
<line x1="310.60" y1="1408.00" x2="310.60" y2="1445.70" stroke="#3a3a3a" stroke-width="1.7" stroke-linecap="butt"/>
<line x1="301.20" y1="1408.00" x2="320.00" y2="1408.00" stroke="#4a4a4a" stroke-width="2.4" stroke-linecap="butt"/>
<rect x="293.40" y="1444.70" width="34.40" height="177.50" fill="#000"/>
<rect x="348.20" y="1523.70" width="32.40" height="98.50" fill="#a1a1a6"/>
<polyline points="348.70,1622.20 348.70,1524.20 380.10,1524.20 380.10,1622.20" fill="none" stroke="#000" stroke-width="3.0" stroke-linejoin="miter"/>
<line x1="364.40" y1="1503.10" x2="364.40" y2="1540.90" stroke="#3a3a3a" stroke-width="1.7" stroke-linecap="butt"/>
<line x1="355.00" y1="1503.10" x2="373.80" y2="1503.10" stroke="#4a4a4a" stroke-width="2.4" stroke-linecap="butt"/>
<line x1="355.00" y1="1540.90" x2="373.80" y2="1540.90" stroke="#4a4a4a" stroke-width="2.4" stroke-linecap="butt"/>
<line x1="453.90" y1="1445.50" x2="453.90" y2="1486.70" stroke="#3a3a3a" stroke-width="1.7" stroke-linecap="butt"/>
<line x1="444.50" y1="1445.50" x2="463.30" y2="1445.50" stroke="#4a4a4a" stroke-width="2.4" stroke-linecap="butt"/>
<rect x="435.60" y="1485.70" width="36.60" height="136.50" fill="#000"/>
<rect x="490.00" y="1505.60" width="34.60" height="116.60" fill="#a1a1a6"/>
<polyline points="490.50,1622.20 490.50,1506.10 524.10,1506.10 524.10,1622.20" fill="none" stroke="#000" stroke-width="3.0" stroke-linejoin="miter"/>
<line x1="507.30" y1="1481.00" x2="507.30" y2="1526.80" stroke="#3a3a3a" stroke-width="1.7" stroke-linecap="butt"/>
<line x1="497.90" y1="1481.00" x2="516.70" y2="1481.00" stroke="#4a4a4a" stroke-width="2.4" stroke-linecap="butt"/>
<line x1="497.90" y1="1526.80" x2="516.70" y2="1526.80" stroke="#4a4a4a" stroke-width="2.4" stroke-linecap="butt"/>
<line x1="275.55" y1="1353.25" x2="275.55" y2="1625.60" stroke="#000" stroke-width="1.9" stroke-linecap="butt"/>
<line x1="264.05" y1="1622.20" x2="545.00" y2="1622.20" stroke="#000" stroke-width="1.9" stroke-linecap="butt"/>
<line x1="264.05" y1="1354.20" x2="275.55" y2="1354.20" stroke="#000" stroke-width="1.9" stroke-linecap="butt"/>
<text transform="translate(223.93,1363.52) scale(0.9800,1)" font-size="27" font-weight="bold" text-anchor="start" class="t">1.5</text>
<line x1="264.05" y1="1445.00" x2="275.55" y2="1445.00" stroke="#000" stroke-width="1.9" stroke-linecap="butt"/>
<text transform="translate(224.33,1454.32) scale(0.9800,1)" font-size="27" font-weight="bold" text-anchor="start" class="t">1.0</text>
<line x1="264.05" y1="1533.20" x2="275.55" y2="1533.20" stroke="#000" stroke-width="1.9" stroke-linecap="butt"/>
<text transform="translate(223.93,1542.52) scale(0.9800,1)" font-size="27" font-weight="bold" text-anchor="start" class="t">0.5</text>
<text transform="translate(224.33,1631.52) scale(0.9800,1)" font-size="27" font-weight="bold" text-anchor="start" class="t">0.0</text>
<line x1="337.00" y1="1622.20" x2="337.00" y2="1634.70" stroke="#000" stroke-width="1.9" stroke-linecap="butt"/>
<line x1="482.00" y1="1622.20" x2="482.00" y2="1634.70" stroke="#000" stroke-width="1.9" stroke-linecap="butt"/>
<text transform="translate(107.75,1706.00) scale(0.9216,1)" font-size="28.5" font-weight="bold" text-anchor="start" class="ch">Choline Tx</text>
<text transform="translate(332.28,1705.45) scale(1.0500,1)" font-size="32.5" font-weight="bold" text-anchor="start" class="fat">-</text>
<text transform="translate(470.49,1704.72) scale(1.0000,1)" font-size="32.5" font-weight="bold" text-anchor="start" class="fat">+</text>
<rect x="555.10" y="1366.10" width="28.60" height="17.70" fill="#000"/>
<rect x="557.20" y="1409.40" width="24.40" height="13.60" fill="#a1a1a6" stroke="#000" stroke-width="4.2"/>
<text transform="translate(598.05,1383.70) scale(1.0000,1)" font-size="28.7" font-weight="normal" text-anchor="start">IS</text>
<text transform="translate(598.05,1424.30) scale(1.0000,1)" font-size="28.7" font-weight="normal" text-anchor="start">ID</text>
<text transform="translate(136.50,1483.80) rotate(-90) scale(0.8944,1)" font-size="30.5" font-weight="bold" text-anchor="middle" letter-spacing="1.565" class="tt" xml:space="preserve">P15 H3K9me3 Enrichment</text>
<text transform="translate(171.90,1483.85) rotate(-90) scale(0.9093,1)" font-size="30" font-weight="bold" text-anchor="middle" letter-spacing="1.422" class="tt" xml:space="preserve">at <tspan font-style="italic">Bdnf6</tspan> Promoter</text>
<text transform="translate(207.00,1483.94) rotate(-90) scale(0.9310,1)" font-size="29.3" font-weight="bold" text-anchor="middle" letter-spacing="1.209" class="tt" xml:space="preserve">(Fold of IS)</text>
<text transform="translate(33.00,1305.00) scale(1.0000,1)" font-size="35" font-weight="normal" text-anchor="start" class="thin">G</text>
<line x1="986.70" y1="1466.10" x2="986.70" y2="1491.00" stroke="#3a3a3a" stroke-width="1.7" stroke-linecap="butt"/>
<line x1="977.30" y1="1466.10" x2="996.10" y2="1466.10" stroke="#4a4a4a" stroke-width="2.4" stroke-linecap="butt"/>
<rect x="969.40" y="1490.00" width="34.60" height="132.20" fill="#000"/>
<rect x="1022.20" y="1507.50" width="34.60" height="114.70" fill="#a1a1a6"/>
<polyline points="1022.70,1622.20 1022.70,1508.00 1056.30,1508.00 1056.30,1622.20" fill="none" stroke="#000" stroke-width="3.0" stroke-linejoin="miter"/>
<line x1="1039.50" y1="1492.20" x2="1039.50" y2="1516.90" stroke="#3a3a3a" stroke-width="1.7" stroke-linecap="butt"/>
<line x1="1030.10" y1="1492.20" x2="1048.90" y2="1492.20" stroke="#4a4a4a" stroke-width="2.4" stroke-linecap="butt"/>
<line x1="1030.10" y1="1516.90" x2="1048.90" y2="1516.90" stroke="#4a4a4a" stroke-width="2.4" stroke-linecap="butt"/>
<line x1="1128.90" y1="1391.70" x2="1128.90" y2="1431.00" stroke="#3a3a3a" stroke-width="1.7" stroke-linecap="butt"/>
<line x1="1119.50" y1="1391.70" x2="1138.30" y2="1391.70" stroke="#4a4a4a" stroke-width="2.4" stroke-linecap="butt"/>
<rect x="1111.60" y="1430.00" width="34.60" height="192.20" fill="#000"/>
<rect x="1166.30" y="1468.20" width="32.30" height="154.00" fill="#a1a1a6"/>
<polyline points="1166.80,1622.20 1166.80,1468.70 1198.10,1468.70 1198.10,1622.20" fill="none" stroke="#000" stroke-width="3.0" stroke-linejoin="miter"/>
<line x1="1182.45" y1="1451.80" x2="1182.45" y2="1483.50" stroke="#3a3a3a" stroke-width="1.7" stroke-linecap="butt"/>
<line x1="1173.05" y1="1451.80" x2="1191.85" y2="1451.80" stroke="#4a4a4a" stroke-width="2.4" stroke-linecap="butt"/>
<line x1="1173.05" y1="1483.50" x2="1191.85" y2="1483.50" stroke="#4a4a4a" stroke-width="2.4" stroke-linecap="butt"/>
<line x1="949.55" y1="1353.25" x2="949.55" y2="1625.60" stroke="#000" stroke-width="1.9" stroke-linecap="butt"/>
<line x1="938.05" y1="1622.20" x2="1219.00" y2="1622.20" stroke="#000" stroke-width="1.9" stroke-linecap="butt"/>
<line x1="938.05" y1="1354.20" x2="949.55" y2="1354.20" stroke="#000" stroke-width="1.9" stroke-linecap="butt"/>
<text transform="translate(898.33,1363.52) scale(0.9800,1)" font-size="27" font-weight="bold" text-anchor="start" class="t">2.0</text>
<line x1="938.05" y1="1422.20" x2="949.55" y2="1422.20" stroke="#000" stroke-width="1.9" stroke-linecap="butt"/>
<text transform="translate(897.93,1431.52) scale(0.9800,1)" font-size="27" font-weight="bold" text-anchor="start" class="t">1.5</text>
<line x1="938.05" y1="1487.90" x2="949.55" y2="1487.90" stroke="#000" stroke-width="1.9" stroke-linecap="butt"/>
<text transform="translate(898.33,1497.22) scale(0.9800,1)" font-size="27" font-weight="bold" text-anchor="start" class="t">1.0</text>
<line x1="938.05" y1="1555.80" x2="949.55" y2="1555.80" stroke="#000" stroke-width="1.9" stroke-linecap="butt"/>
<text transform="translate(897.93,1565.12) scale(0.9800,1)" font-size="27" font-weight="bold" text-anchor="start" class="t">0.5</text>
<text transform="translate(898.33,1631.52) scale(0.9800,1)" font-size="27" font-weight="bold" text-anchor="start" class="t">0.0</text>
<line x1="1013.50" y1="1622.20" x2="1013.50" y2="1634.70" stroke="#000" stroke-width="1.9" stroke-linecap="butt"/>
<line x1="1155.90" y1="1622.20" x2="1155.90" y2="1634.70" stroke="#000" stroke-width="1.9" stroke-linecap="butt"/>
<text transform="translate(784.15,1706.00) scale(0.9216,1)" font-size="28.5" font-weight="bold" text-anchor="start" class="ch">Choline Tx</text>
<text transform="translate(1007.28,1705.45) scale(1.0500,1)" font-size="32.5" font-weight="bold" text-anchor="start" class="fat">-</text>
<text transform="translate(1144.49,1705.72) scale(1.0000,1)" font-size="32.5" font-weight="bold" text-anchor="start" class="fat">+</text>
<rect x="1229.10" y="1366.10" width="28.60" height="17.70" fill="#000"/>
<rect x="1231.20" y="1409.40" width="24.40" height="13.60" fill="#a1a1a6" stroke="#000" stroke-width="4.2"/>
<text transform="translate(1272.05,1383.70) scale(1.0000,1)" font-size="28.7" font-weight="normal" text-anchor="start">IS</text>
<text transform="translate(1272.05,1424.30) scale(1.0000,1)" font-size="28.7" font-weight="normal" text-anchor="start">ID</text>
<text transform="translate(812.90,1483.80) rotate(-90) scale(0.8944,1)" font-size="30.5" font-weight="bold" text-anchor="middle" letter-spacing="1.565" class="tt" xml:space="preserve">P65 H3K9me3 Enrichment</text>
<text transform="translate(848.20,1483.85) rotate(-90) scale(0.9093,1)" font-size="30" font-weight="bold" text-anchor="middle" letter-spacing="1.422" class="tt" xml:space="preserve">at <tspan font-style="italic">Bdnf6</tspan> Promoter</text>
<text transform="translate(883.00,1483.94) rotate(-90) scale(0.9310,1)" font-size="29.3" font-weight="bold" text-anchor="middle" letter-spacing="1.209" class="tt" xml:space="preserve">(Fold of IS)</text>
<text transform="translate(719.70,1305.00) scale(1.0000,1)" font-size="35" font-weight="normal" text-anchor="start" class="thin">H</text>
<line x1="303.70" y1="1864.60" x2="303.70" y2="1915.70" stroke="#3a3a3a" stroke-width="1.7" stroke-linecap="butt"/>
<line x1="294.30" y1="1864.60" x2="313.10" y2="1864.60" stroke="#4a4a4a" stroke-width="2.4" stroke-linecap="butt"/>
<rect x="285.40" y="1914.70" width="36.60" height="178.40" fill="#000"/>
<rect x="339.90" y="2021.00" width="34.60" height="72.10" fill="#a1a1a6"/>
<polyline points="340.40,2093.10 340.40,2021.50 374.00,2021.50 374.00,2093.10" fill="none" stroke="#000" stroke-width="3.0" stroke-linejoin="miter"/>
<line x1="357.20" y1="2006.50" x2="357.20" y2="2032.00" stroke="#3a3a3a" stroke-width="1.7" stroke-linecap="butt"/>
<line x1="347.80" y1="2006.50" x2="366.60" y2="2006.50" stroke="#4a4a4a" stroke-width="2.4" stroke-linecap="butt"/>
<line x1="347.80" y1="2032.00" x2="366.60" y2="2032.00" stroke="#4a4a4a" stroke-width="2.4" stroke-linecap="butt"/>
<line x1="445.60" y1="1971.40" x2="445.60" y2="2002.90" stroke="#3a3a3a" stroke-width="1.7" stroke-linecap="butt"/>
<line x1="436.20" y1="1971.40" x2="455.00" y2="1971.40" stroke="#4a4a4a" stroke-width="2.4" stroke-linecap="butt"/>
<rect x="427.30" y="2001.90" width="36.60" height="91.20" fill="#000"/>
<rect x="484.10" y="1958.60" width="32.50" height="134.50" fill="#a1a1a6"/>
<polyline points="484.60,2093.10 484.60,1959.10 516.10,1959.10 516.10,2093.10" fill="none" stroke="#000" stroke-width="3.0" stroke-linejoin="miter"/>
<line x1="500.35" y1="1908.90" x2="500.35" y2="2007.00" stroke="#3a3a3a" stroke-width="1.7" stroke-linecap="butt"/>
<line x1="490.95" y1="1908.90" x2="509.75" y2="1908.90" stroke="#4a4a4a" stroke-width="2.4" stroke-linecap="butt"/>
<line x1="490.95" y1="2007.00" x2="509.75" y2="2007.00" stroke="#4a4a4a" stroke-width="2.4" stroke-linecap="butt"/>
<line x1="267.30" y1="1823.05" x2="267.30" y2="2096.50" stroke="#000" stroke-width="1.9" stroke-linecap="butt"/>
<line x1="255.80" y1="2093.10" x2="538.00" y2="2093.10" stroke="#000" stroke-width="1.9" stroke-linecap="butt"/>
<line x1="255.80" y1="1824.00" x2="267.30" y2="1824.00" stroke="#000" stroke-width="1.9" stroke-linecap="butt"/>
<text transform="translate(215.68,1833.32) scale(0.9800,1)" font-size="27" font-weight="bold" text-anchor="start" class="t">1.5</text>
<line x1="255.80" y1="1912.60" x2="267.30" y2="1912.60" stroke="#000" stroke-width="1.9" stroke-linecap="butt"/>
<text transform="translate(216.08,1921.91) scale(0.9800,1)" font-size="27" font-weight="bold" text-anchor="start" class="t">1.0</text>
<line x1="255.80" y1="2004.10" x2="267.30" y2="2004.10" stroke="#000" stroke-width="1.9" stroke-linecap="butt"/>
<text transform="translate(215.68,2013.41) scale(0.9800,1)" font-size="27" font-weight="bold" text-anchor="start" class="t">0.5</text>
<text transform="translate(216.08,2102.41) scale(0.9800,1)" font-size="27" font-weight="bold" text-anchor="start" class="t">0.0</text>
<line x1="329.00" y1="2093.10" x2="329.00" y2="2105.60" stroke="#000" stroke-width="1.9" stroke-linecap="butt"/>
<line x1="473.00" y1="2093.10" x2="473.00" y2="2105.60" stroke="#000" stroke-width="1.9" stroke-linecap="butt"/>
<text transform="translate(101.75,2158.00) scale(0.9216,1)" font-size="28.5" font-weight="bold" text-anchor="start" class="ch">Choline Tx</text>
<text transform="translate(323.28,2159.45) scale(1.0500,1)" font-size="32.5" font-weight="bold" text-anchor="start" class="fat">-</text>
<text transform="translate(462.49,2157.72) scale(1.0000,1)" font-size="32.5" font-weight="bold" text-anchor="start" class="fat">+</text>
<rect x="546.70" y="1834.60" width="28.80" height="17.70" fill="#000"/>
<rect x="548.80" y="1877.60" width="24.60" height="14.00" fill="#a1a1a6" stroke="#000" stroke-width="4.2"/>
<text transform="translate(589.85,1852.20) scale(1.0000,1)" font-size="28.7" font-weight="normal" text-anchor="start">IS</text>
<text transform="translate(589.85,1892.90) scale(1.0000,1)" font-size="28.7" font-weight="normal" text-anchor="start">ID</text>
<text transform="translate(130.50,1953.50) rotate(-90) scale(0.8868,1)" font-size="30.5" font-weight="bold" text-anchor="middle" letter-spacing="1.575" class="tt" xml:space="preserve">P15 pCREB Enrichment</text>
<text transform="translate(165.40,1953.56) rotate(-90) scale(0.9016,1)" font-size="30" font-weight="bold" text-anchor="middle" letter-spacing="1.422" class="tt" xml:space="preserve">at <tspan font-style="italic">Bdnf6</tspan> Promoter</text>
<text transform="translate(200.60,1953.64) rotate(-90) scale(0.9231,1)" font-size="29.3" font-weight="bold" text-anchor="middle" letter-spacing="1.209" class="tt" xml:space="preserve">(Fold of IS)</text>
<text transform="translate(33.00,1796.20) scale(1.0000,1)" font-size="35" font-weight="normal" text-anchor="start" class="thin">I</text>
<line x1="979.70" y1="1874.00" x2="979.70" y2="1913.60" stroke="#3a3a3a" stroke-width="1.7" stroke-linecap="butt"/>
<line x1="970.30" y1="1874.00" x2="989.10" y2="1874.00" stroke="#4a4a4a" stroke-width="2.4" stroke-linecap="butt"/>
<rect x="961.40" y="1912.60" width="36.60" height="180.50" fill="#000"/>
<rect x="1016.20" y="1973.80" width="34.10" height="119.30" fill="#a1a1a6"/>
<polyline points="1016.70,2093.10 1016.70,1974.30 1049.80,1974.30 1049.80,2093.10" fill="none" stroke="#000" stroke-width="3.0" stroke-linejoin="miter"/>
<line x1="1033.25" y1="1946.00" x2="1033.25" y2="2000.40" stroke="#3a3a3a" stroke-width="1.7" stroke-linecap="butt"/>
<line x1="1023.85" y1="1946.00" x2="1042.65" y2="1946.00" stroke="#4a4a4a" stroke-width="2.4" stroke-linecap="butt"/>
<line x1="1023.85" y1="2000.40" x2="1042.65" y2="2000.40" stroke="#4a4a4a" stroke-width="2.4" stroke-linecap="butt"/>
<line x1="1122.00" y1="1949.00" x2="1122.00" y2="1986.00" stroke="#3a3a3a" stroke-width="1.7" stroke-linecap="butt"/>
<line x1="1112.60" y1="1949.00" x2="1131.40" y2="1949.00" stroke="#4a4a4a" stroke-width="2.4" stroke-linecap="butt"/>
<rect x="1104.00" y="1985.00" width="36.00" height="108.10" fill="#000"/>
<rect x="1160.00" y="2052.00" width="32.00" height="41.10" fill="#a1a1a6"/>
<polyline points="1160.50,2093.10 1160.50,2052.50 1191.50,2052.50 1191.50,2093.10" fill="none" stroke="#000" stroke-width="3.0" stroke-linejoin="miter"/>
<line x1="1176.00" y1="2045.00" x2="1176.00" y2="2057.00" stroke="#3a3a3a" stroke-width="1.7" stroke-linecap="butt"/>
<line x1="1166.60" y1="2045.00" x2="1185.40" y2="2045.00" stroke="#4a4a4a" stroke-width="2.4" stroke-linecap="butt"/>
<line x1="1166.60" y1="2057.00" x2="1185.40" y2="2057.00" stroke="#4a4a4a" stroke-width="2.4" stroke-linecap="butt"/>
<line x1="943.55" y1="1821.15" x2="943.55" y2="2096.50" stroke="#000" stroke-width="1.9" stroke-linecap="butt"/>
<line x1="932.05" y1="2093.10" x2="1212.00" y2="2093.10" stroke="#000" stroke-width="1.9" stroke-linecap="butt"/>
<line x1="932.05" y1="1822.10" x2="943.55" y2="1822.10" stroke="#000" stroke-width="1.9" stroke-linecap="butt"/>
<text transform="translate(891.93,1831.41) scale(0.9800,1)" font-size="27" font-weight="bold" text-anchor="start" class="t">1.5</text>
<line x1="932.05" y1="1912.60" x2="943.55" y2="1912.60" stroke="#000" stroke-width="1.9" stroke-linecap="butt"/>
<text transform="translate(892.33,1921.91) scale(0.9800,1)" font-size="27" font-weight="bold" text-anchor="start" class="t">1.0</text>
<line x1="932.05" y1="2001.60" x2="943.55" y2="2001.60" stroke="#000" stroke-width="1.9" stroke-linecap="butt"/>
<text transform="translate(891.93,2010.91) scale(0.9800,1)" font-size="27" font-weight="bold" text-anchor="start" class="t">0.5</text>
<text transform="translate(892.33,2102.41) scale(0.9800,1)" font-size="27" font-weight="bold" text-anchor="start" class="t">0.0</text>
<line x1="1005.00" y1="2093.10" x2="1005.00" y2="2105.60" stroke="#000" stroke-width="1.9" stroke-linecap="butt"/>
<line x1="1149.00" y1="2093.10" x2="1149.00" y2="2105.60" stroke="#000" stroke-width="1.9" stroke-linecap="butt"/>
<text transform="translate(778.15,2158.00) scale(0.9216,1)" font-size="28.5" font-weight="bold" text-anchor="start" class="ch">Choline Tx</text>
<text transform="translate(999.28,2159.45) scale(1.0500,1)" font-size="32.5" font-weight="bold" text-anchor="start" class="fat">-</text>
<text transform="translate(1138.49,2157.72) scale(1.0000,1)" font-size="32.5" font-weight="bold" text-anchor="start" class="fat">+</text>
<rect x="1223.00" y="1834.60" width="28.80" height="17.70" fill="#000"/>
<rect x="1225.10" y="1877.60" width="24.60" height="14.00" fill="#a1a1a6" stroke="#000" stroke-width="4.2"/>
<text transform="translate(1266.15,1852.20) scale(1.0000,1)" font-size="28.7" font-weight="normal" text-anchor="start">IS</text>
<text transform="translate(1266.15,1892.90) scale(1.0000,1)" font-size="28.7" font-weight="normal" text-anchor="start">ID</text>
<text transform="translate(806.90,1951.79) rotate(-90) scale(0.8959,1)" font-size="30.5" font-weight="bold" text-anchor="middle" letter-spacing="1.575" class="tt" xml:space="preserve">P65 pCREB Enrichment</text>
<text transform="translate(842.20,1951.85) rotate(-90) scale(0.9108,1)" font-size="30" font-weight="bold" text-anchor="middle" letter-spacing="1.422" class="tt" xml:space="preserve">at <tspan font-style="italic">Bdnf6</tspan> Promoter</text>
<text transform="translate(877.00,1951.94) rotate(-90) scale(0.9326,1)" font-size="29.3" font-weight="bold" text-anchor="middle" letter-spacing="1.209" class="tt" xml:space="preserve">(Fold of IS)</text>
<text transform="translate(721.20,1796.00) scale(1.0000,1)" font-size="35" font-weight="normal" text-anchor="start" class="thin">J</text>
<polyline points="977.00,1796.00 1123.00,1796.00" fill="none" stroke="#000" stroke-width="1.8" stroke-linejoin="miter"/>
<polyline points="1033.00,1779.00 1177.00,1779.00" fill="none" stroke="#000" stroke-width="1.8" stroke-linejoin="miter"/>
<polyline points="1005.00,1796.00 1005.00,1756.00 1152.00,1756.00 1152.00,1779.00" fill="none" stroke="#000" stroke-width="1.8" stroke-linejoin="miter"/>
<polyline points="980.00,1857.00 1033.00,1857.00" fill="none" stroke="#000" stroke-width="1.8" stroke-linejoin="miter"/>
<polyline points="1122.00,1932.00 1175.00,1932.00" fill="none" stroke="#000" stroke-width="1.8" stroke-linejoin="miter"/>
<polyline points="1005.00,1857.00 1005.00,1840.00 1150.00,1840.00 1150.00,1932.00" fill="none" stroke="#000" stroke-width="1.8" stroke-linejoin="miter"/>
<text transform="translate(1065.34,1747.58) scale(1.08,1)" font-size="25.5" font-weight="bold" letter-spacing="5.45" text-anchor="start" class="fat2">**</text>
<text transform="translate(1071.64,1831.58) scale(1.08,1)" font-size="25.5" font-weight="bold" letter-spacing="5.45" text-anchor="start" class="fat2">*</text>
</svg>
</body></html>
